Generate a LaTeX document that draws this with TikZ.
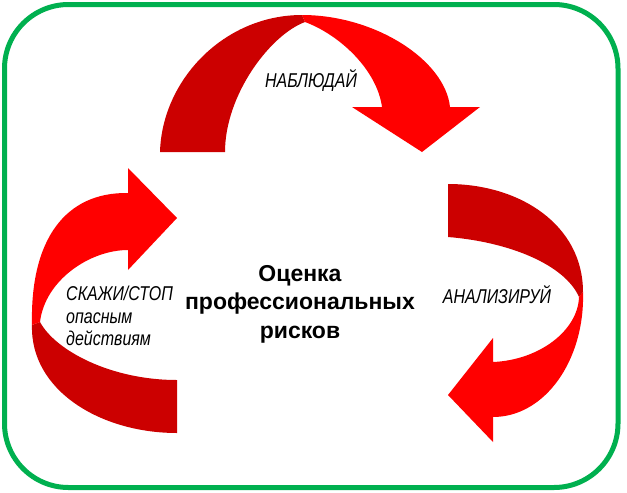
\documentclass[tikz,border=0pt]{standalone}
\usepackage{fontspec}
\setmainfont{Liberation Sans}
\newfontfamily\narrowfont[FakeStretch=0.8]{Liberation Sans}
\definecolor{ffqqqq}{rgb}{1.,0.,0.}
\definecolor{ccqqqq}{rgb}{0.8,0.,0.}
\definecolor{qqbqfq}{rgb}{0.,0.69,0.31}

\begin{document}
\begin{tikzpicture}[line cap=round,line join=round,x=1.0pt,y=-1.0pt,
  darkband/.style={fill=ccqqqq},
  lightband/.style={fill=ffqqqq},
  steplabel/.style={font=\narrowfont\itshape\fontsize{20}{22.5}\selectfont,inner sep=0pt}]
\useasboundingbox (0.,0.) rectangle (627.,493.);
\draw [line width=5.pt,color=qqbqfq,rounded corners=64pt] (4.5,4.5) rectangle (618.,487.5);
% top arrow
\fill [darkband] (160.,152.) .. controls (162.,80.) and (224.,15.) .. (302.,15.)
  -- (305.,22.) .. controls (270.,35.) and (225.,95.) .. (225.,152.) -- cycle;
\fill [lightband] (302.,15.) .. controls (375.,15.) and (445.,60.) .. (450.,107.)
  -- (480.,107.) -- (422.,152.) -- (352.,107.) -- (382.,107.)
  .. controls (377.,70.) and (340.,35.) .. (305.,22.) -- cycle;
% right arrow
\fill [darkband] (448.,184.) .. controls (520.,184.) and (583.,225.) .. (583.,292.)
  -- (579.,297.) .. controls (565.,265.) and (510.,242.) .. (448.,237.) -- cycle;
\fill [lightband] (583.,292.) .. controls (585.,360.) and (545.,417.) .. (493.,417.)
  -- (493.,442.) -- (448.,395.) -- (493.,338.) -- (493.,362.)
  .. controls (540.,360.) and (578.,330.) .. (579.,297.) -- cycle;
% left arrow
\fill [darkband] (32.,325.) .. controls (30.,390.) and (100.,433.) .. (177.,433.)
  -- (177.,380.) .. controls (110.,380.) and (55.,350.) .. (40.,322.) -- cycle;
\fill [lightband] (32.,325.) .. controls (30.,240.) and (65.,192.) .. (128.,193.)
  -- (128.,168.) -- (177.,218.) -- (128.,270.) -- (128.,250.)
  .. controls (90.,250.) and (45.,280.) .. (40.,322.) -- cycle;
% texts
\node [align=center,font=\bfseries\fontsize{23}{28.5}\selectfont] (risk) at (300.,304.) {Оценка\\профессиональных\\рисков};
\node [steplabel] (observe) at (311.,80.) {НАБЛЮДАЙ};
\node [steplabel] (analyse) at (497.,295.) {АНАЛИЗИРУЙ};
\node [steplabel,align=left,anchor=west] (tell) at (66.,316.) {СКАЖИ/СТОП\\опасным\\действиям};
\end{tikzpicture}
\end{document}
